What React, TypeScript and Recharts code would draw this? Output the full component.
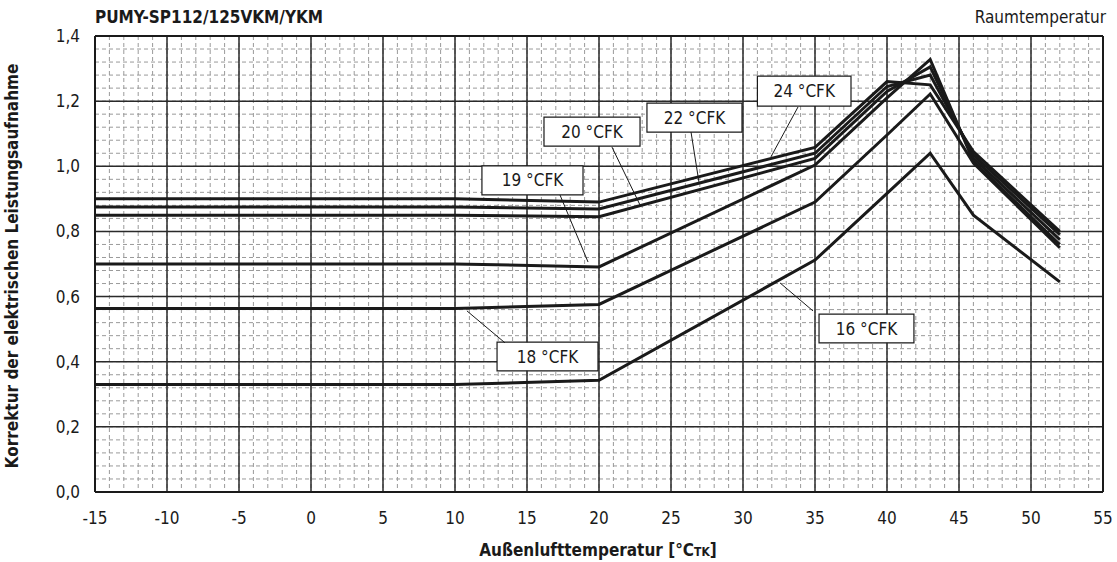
import {
  LineChart,
  Line,
  XAxis,
  YAxis,
  CartesianGrid,
  ReferenceArea,
  ReferenceLine,
} from "recharts";

const FONT = '"Liberation Sans Narrow", "Arial Narrow", "DejaVu Sans Condensed", sans-serif';

// Außenlufttemperatur [°C TK]
const temps = [-15, 10, 20, 35, 40, 43, 46, 52];

// Korrekturfaktor pro Raumtemperatur [°C FK]
const cfk24 = [0.9, 0.9, 0.89, 1.058, 1.26, 1.25, 1.045, 0.8];
const cfk22 = [0.875, 0.875, 0.869, 1.04, 1.245, 1.28, 1.035, 0.79];
const cfk20 = [0.85, 0.85, 0.845, 1.024, 1.23, 1.305, 1.025, 0.775];
const cfk19 = [0.7, 0.7, 0.691, 1.004, 1.21, 1.328, 1.015, 0.76];
const cfk18 = [0.563, 0.563, 0.576, 0.89, 1.096, 1.222, 1.01, 0.75];
const cfk16 = [0.33, 0.33, 0.343, 0.712, 0.917, 1.04, 0.85, 0.645];

const xTicks = [-15, -10, -5, 0, 5, 10, 15, 20, 25, 30, 35, 40, 45, 50, 55];
const yTicks = [0, 0.2, 0.4, 0.6, 0.8, 1.0, 1.2, 1.4];

// Beschriftungen: Kasten [x1, x2, y1, y2] und Hinweislinie [x, y] -> [x, y]
const labelNames = ["24 °CFK", "22 °CFK", "20 °CFK", "19 °CFK", "18 °CFK", "16 °CFK"];
const labelBoxes = [
  [31.0, 37.5, 1.185, 1.277],
  [23.33, 29.93, 1.105, 1.194],
  [16.18, 22.85, 1.062, 1.151],
  [11.87, 18.89, 0.912, 1.001],
  [12.92, 19.93, 0.372, 0.46],
  [35.28, 41.87, 0.458, 0.546],
];
const leaders = [
  [33.82, 1.182, 31.94, 1.029],
  [26.39, 1.105, 26.94, 0.952],
  [20.9, 1.059, 22.85, 0.881],
  [17.29, 0.912, 19.24, 0.706],
  [13.47, 0.458, 10.83, 0.556],
  [34.86, 0.556, 32.57, 0.642],
];

const series = [
  { key: "c24", values: cfk24 },
  { key: "c22", values: cfk22 },
  { key: "c20", values: cfk20 },
  { key: "c19", values: cfk19 },
  { key: "c18", values: cfk18 },
  { key: "c16", values: cfk16 },
];

const data = temps.map((t, i) => {
  const row: any = { t };
  series.forEach((s) => (row[s.key] = s.values[i]));
  return row;
});

const minorX: number[] = [];
for (let v = -15; v <= 55; v += 1) minorX.push(v);
const minorY: number[] = [];
for (let i = 0; i <= 35; i++) minorY.push(Math.round(i * 0.04 * 100) / 100);

export default function App() {
  return (
    <div style={{ position: "absolute", left: 0, top: 0, width: 1117, height: 562, background: "#fff" }}>
      <LineChart
        width={1117}
        height={562}
        data={data}
        margin={{ top: 36, right: 14, bottom: 0, left: 0 }}
      >
        <CartesianGrid
          horizontalValues={minorY}
          verticalValues={minorX}
          stroke="#9a9a9a"
          strokeDasharray="4 3"
          strokeWidth={1}
        />
        <CartesianGrid stroke="#2a2a2a" strokeWidth={1.5} />
        <XAxis
          dataKey="t"
          type="number"
          domain={[-15, 55]}
          ticks={xTicks}
          interval={0}
          height={70}
          tickSize={0}
          tickMargin={20}
          axisLine={{ stroke: "#1a1a1a", strokeWidth: 2 }}
          tick={{ fill: "#1a1a1a", fontSize: 17, fontFamily: FONT }}
        />
        <YAxis
          type="number"
          domain={[0, 1.4]}
          ticks={yTicks}
          interval={0}
          width={95}
          tickSize={0}
          tickMargin={15}
          axisLine={{ stroke: "#1a1a1a", strokeWidth: 2 }}
          tick={{ fill: "#1a1a1a", fontSize: 17, fontFamily: FONT }}
          tickFormatter={(v: number) => v.toFixed(1).replace(".", ",")}
        />
        <ReferenceLine y={1.4} stroke="#1a1a1a" strokeWidth={2} />
        <ReferenceLine x={55} stroke="#1a1a1a" strokeWidth={2} />
        {series.map((s) => (
          <Line
            key={s.key}
            dataKey={s.key}
            type="linear"
            stroke="#1a1a1a"
            strokeWidth={3}
            dot={false}
            isAnimationActive={false}
          />
        ))}
        {leaders.map((l, i) => (
          <ReferenceLine
            key={"l" + i}
            segment={[
              { x: l[0], y: l[1] },
              { x: l[2], y: l[3] },
            ]}
            stroke="#1a1a1a"
            strokeWidth={1}
          />
        ))}
        {labelBoxes.map((b, i) => (
          <ReferenceArea
            key={"b" + i}
            x1={b[0]}
            x2={b[1]}
            y1={b[2]}
            y2={b[3]}
            fill="#fff"
            fillOpacity={1}
            stroke="#1a1a1a"
            strokeWidth={1.2}
            label={{ value: labelNames[i], position: "center", fill: "#1a1a1a", fontSize: 17, fontFamily: FONT }}
          />
        ))}
      </LineChart>
      <svg
        width={1117}
        height={562}
        style={{ position: "absolute", left: 0, top: 0, pointerEvents: "none" }}
        fontFamily={FONT}
        fill="#1a1a1a"
      >
        <text x={95} y={23} fontSize={17} fontWeight="bold">
          PUMY-SP112/125VKM/YKM
        </text>
        <text x={1106} y={23} fontSize={17} textAnchor="end">
          Raumtemperatur
        </text>
        <text x={598} y={556} fontSize={17} fontWeight="bold" textAnchor="middle">
          Außenlufttemperatur [°C<tspan fontSize={12}>TK</tspan>]
        </text>
        <text
          x={0}
          y={0}
          fontSize={17}
          fontWeight="bold"
          textAnchor="middle"
          transform="translate(18 266) rotate(-90)"
        >
          Korrektur der elektrischen Leistungsaufnahme
        </text>
      </svg>
    </div>
  );
}
